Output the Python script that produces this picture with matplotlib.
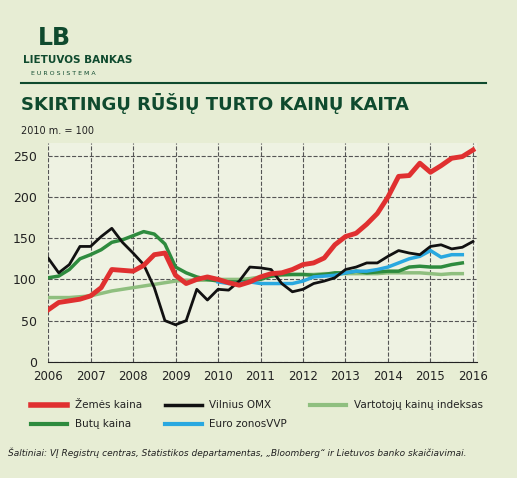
import numpy as np
import matplotlib
matplotlib.use("Agg")
import matplotlib.pyplot as plt

BG = "#e7edd4"
DARK = "#0f4a2e"

years = list(range(2006, 2017))
y_ticks = [0, 50, 100, 150, 200, 250]

zemes = [63, 72, 74, 76, 80, 90, 112, 111, 110, 117, 130, 132, 105, 95, 100, 103,
         100, 96, 93, 97, 103, 107, 108, 112, 118, 120, 126, 142, 152, 156, 167, 180,
         200, 225, 226, 241, 230, 238, 247, 249, 257]
omx = [126, 108, 118, 140, 140, 152, 162, 145, 132, 118, 90, 50, 45, 50, 88, 75,
       88, 87, 98, 115, 114, 112, 95, 85, 88, 95, 98, 102, 112, 115, 120, 120,
       128, 135, 132, 130, 140, 142, 137, 139, 146]
butu = [102, 104, 112, 125, 130, 136, 145, 148, 153, 158, 155, 143, 115, 108, 103, 100,
        98, 97, 97, 98, 100, 104, 106, 106, 106, 105, 106, 108, 108, 110, 108, 109,
        110, 110, 115, 116, 115, 115, 118, 120]
vki = [78, 78, 78, 79, 80, 83, 86, 88, 90, 92, 94, 96, 98, 99, 99, 99,
       100, 100, 100, 101, 103, 104, 105, 106, 106, 106, 107, 107, 107, 107, 107, 107,
       108, 108, 108, 108, 107, 106, 107, 107]
euro = [97, 95, 95, 97, 95, 95, 95, 95, 98, 103, 104, 105, 108, 110, 110, 112,
        115, 120, 125, 128, 135, 127, 130, 130]

def quarters(n, start=2006.0):
    return start + np.arange(n) / 4

fig = plt.figure(figsize=(5.17, 4.78), dpi=100, facecolor=BG)
ax = fig.add_axes([0.093, 0.243, 0.83, 0.457])
ax.set_facecolor("#eef2e2")

ax.plot(quarters(len(vki)), vki, color="#8fbf7f", lw=2.5)
ax.plot(quarters(len(butu)), butu, color="#2e8b3e", lw=2.5)
ax.plot(quarters(len(euro), 2010.0), euro, color="#29a8e0", lw=2.5)
ax.plot(quarters(len(omx)), omx, color="#111111", lw=2)
ax.plot(quarters(len(zemes)), zemes, color="#e03030", lw=3.5)

ax.set_xlim(2006, 2016.1)
ax.set_ylim(0, 265)
ax.set_xticks(years)
ax.set_yticks(y_ticks)
ax.tick_params(axis="x", labelsize=8.5, length=0, pad=6, colors="#222222")
ax.tick_params(axis="y", labelsize=9, length=0, pad=8, colors="#222222")
ax.grid(True, color="#555555", ls="--", lw=0.8)
for s in ["top", "right", "left"]:
    ax.spines[s].set_visible(False)
ax.spines["bottom"].set_color("#222222")

# header
fig.text(0.105, 0.905, "LB", fontsize=17, fontweight="bold", color=DARK, ha="center")
fig.text(0.045, 0.868, "LIETUVOS BANKAS", fontsize=7.5, fontweight="bold", color=DARK)
fig.text(0.06, 0.843, "E U R O S I S T E M A", fontsize=4.5, color=DARK)
fig.add_artist(plt.Line2D([0.04, 0.94], [0.826, 0.826], color=DARK, lw=1.5))
fig.text(0.04, 0.77, "SKIRTINGŲ RŪŠIŲ TURTO KAINŲ KAITA", fontsize=13,
         fontweight="bold", color=DARK)
fig.text(0.04, 0.72, "2010 m. = 100", fontsize=7, color="#222222")

# legend
items = [(0.06, 0.153, "#e03030", "Žemės kaina", 3.5),
         (0.32, 0.153, "#111111", "Vilnius OMX", 2),
         (0.60, 0.153, "#8fbf7f", "Vartotojų kainų indeksas", 2.5),
         (0.06, 0.113, "#2e8b3e", "Butų kaina", 2.5),
         (0.32, 0.113, "#29a8e0", "Euro zonosVVP", 2.5)]
for x, y, c, lab, lw in items:
    fig.add_artist(plt.Line2D([x, x + 0.07], [y, y], color=c, lw=lw + 0.5))
    fig.text(x + 0.085, y, lab, fontsize=7.5, va="center", color="#222222")

fig.text(0.015, 0.045, "Šaltiniai: VĮ Registrų centras, Statistikos departamentas, „Bloomberg“ ir Lietuvos banko skaičiavimai.",
         fontsize=6.5, style="italic", color="#222222")

fig.savefig("out.png", dpi=100, facecolor=BG)
